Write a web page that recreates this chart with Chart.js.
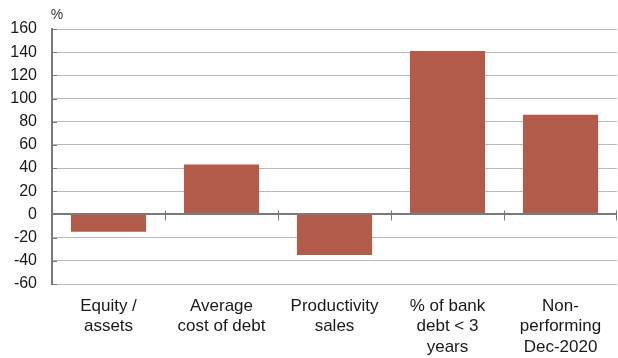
<!DOCTYPE html>
<html>
<head>
<meta charset="utf-8">
<script src="https://cdn.jsdelivr.net/npm/chart.js@4/dist/chart.umd.min.js"></script>
<style>
  html, body { margin: 0; padding: 0; background: #fff; }
  #wrap { width: 618px; height: 358px; }
</style>
</head>
<body>
<div id="wrap"><canvas id="chart"></canvas></div>
<script>
"use strict";

const categories = [
  ["Equity /", "assets"],
  ["Average", "cost of debt"],
  ["Productivity", "sales"],
  ["% of bank", "debt < 3", "years"],
  ["Non-", "performing", "Dec-2020"]
];
const values = [-15, 43, -35, 141, 86];
const yMin = -60;
const yMax = 160;
const yStep = 20;
const unitLabel = "%";

const barColor = "#b25b4b";
const axisColor = "#7a7a7a";
const gridColor = "#b8b8b8";
const fontFamily = "'Liberation Sans', Arial, Helvetica, sans-serif";

// zero line with ticks between categories, small inner ticks on y axis, unit label
const axisExtras = {
  id: "axisExtras",
  afterDatasetsDraw(chart) {
    const { ctx, chartArea, scales } = chart;
    const x = scales.x;
    const y = scales.y;
    const y0 = y.getPixelForValue(0);

    ctx.save();
    ctx.strokeStyle = axisColor;

    // y inner ticks
    ctx.lineWidth = 1;
    y.ticks.forEach(t => {
      const py = Math.round(y.getPixelForValue(t.value)) + 0.5;
      ctx.beginPath();
      ctx.moveTo(chartArea.left, py);
      ctx.lineTo(chartArea.left + 5, py);
      ctx.stroke();
    });

    // zero line
    ctx.lineWidth = 2;
    ctx.beginPath();
    ctx.moveTo(chartArea.left, Math.round(y0));
    ctx.lineTo(chartArea.right, Math.round(y0));
    ctx.stroke();

    // category boundary ticks
    ctx.lineWidth = 1;
    for (let i = 1; i <= categories.length; i++) {
      const bx = (x.getPixelForValue(i - 1) + x.getPixelForValue(i)) / 2;
      const px = i === categories.length ? chartArea.right - 0.5 : Math.round(bx) + 0.5;
      ctx.beginPath();
      ctx.moveTo(px, y0 - 4);
      ctx.lineTo(px, y0 + 6);
      ctx.stroke();
    }

    // unit label
    ctx.fillStyle = "#333";
    ctx.font = "14px " + fontFamily;
    ctx.textAlign = "center";
    ctx.textBaseline = "alphabetic";
    ctx.fillText(unitLabel, chartArea.left + 5, chartArea.top - 10);
    ctx.restore();
  }
};

new Chart(document.getElementById("chart").getContext("2d"), {
  type: "bar",
  data: {
    labels: categories,
    datasets: [{
      data: values,
      backgroundColor: barColor,
      borderWidth: 0,
      categoryPercentage: 1,
      barPercentage: 0.665
    }]
  },
  options: {
    responsive: true,
    maintainAspectRatio: false,
    animation: false,
    layout: { padding: { top: 29, right: 1, left: 0, bottom: 0 } },
    plugins: {
      legend: { display: false },
      tooltip: { enabled: false }
    },
    scales: {
      x: {
        grid: { display: false },
        border: { display: false },
        ticks: {
          color: "#1a1a1a",
          padding: 4,
          maxRotation: 0,
          autoSkip: false,
          font: { family: fontFamily, size: 17, lineHeight: 1.2 }
        },
        afterFit(scale) { scale.height = 74; }
      },
      y: {
        min: yMin,
        max: yMax,
        grid: {
          color: gridColor,
          lineWidth: 1,
          drawTicks: false
        },
        border: { color: axisColor, width: 2 },
        ticks: {
          stepSize: yStep,
          color: "#1a1a1a",
          padding: 15,
          font: { family: fontFamily, size: 16 }
        },
        afterFit(scale) { scale.width = 52; }
      }
    }
  },
  plugins: [axisExtras]
});
</script>
</body>
</html>
